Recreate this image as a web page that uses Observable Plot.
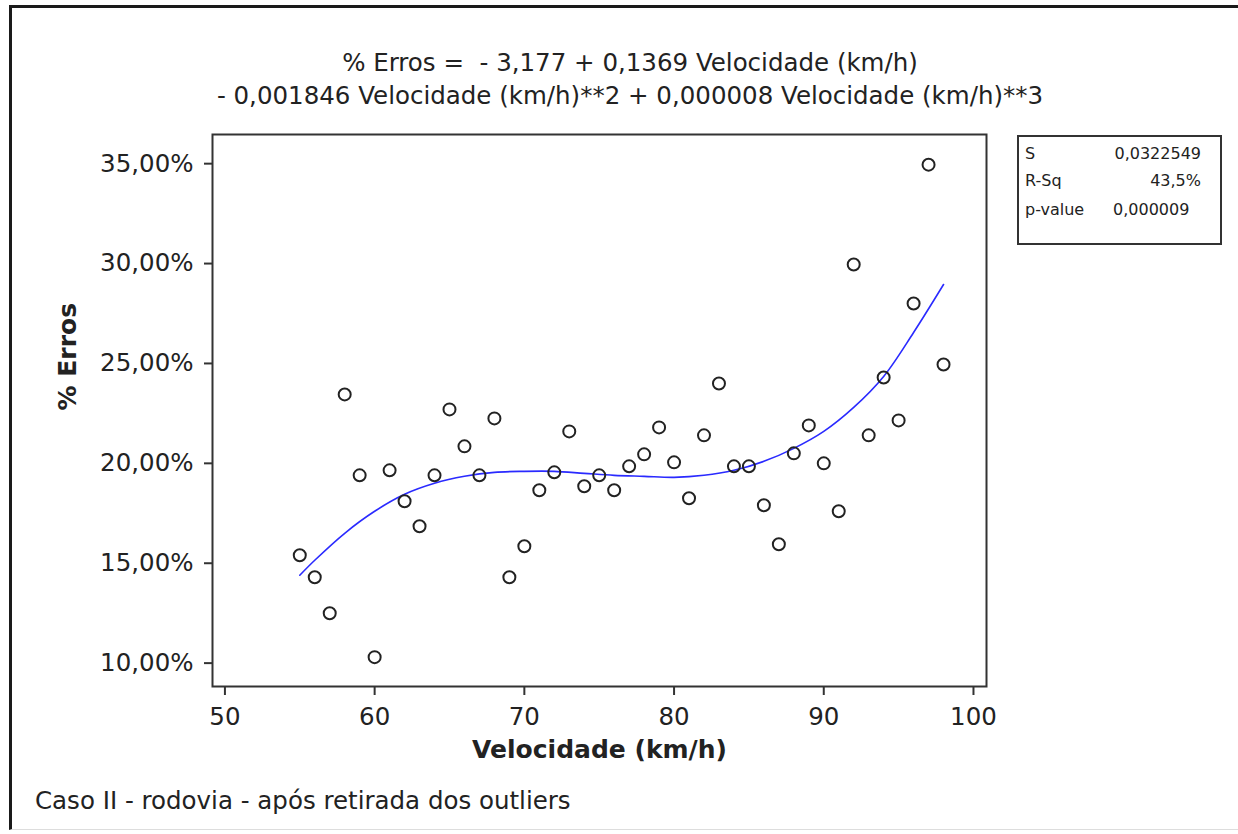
<!DOCTYPE html>
<html>
<head>
<meta charset="utf-8">
<script src="https://cdn.jsdelivr.net/npm/d3@7"></script>
<script src="https://cdn.jsdelivr.net/npm/@observablehq/plot@0.6"></script>
<style>
  html, body { margin: 0; padding: 0; background: #fff; overflow: hidden; }
  #page { position: relative; width: 1238px; height: 834px; font-family: "DejaVu Sans", sans-serif; color: #222; overflow: hidden; }
  #frame { position: absolute; left: 9px; top: 5px; width: 1240px; height: 825px; border-left: 3px solid #1a1a1a; border-top: 3px solid #1a1a1a; border-bottom: 1px solid #ddd; box-sizing: border-box; }
  #title { position: absolute; left: 0; top: 46px; width: 1260px; text-align: center; font-size: 24.5px; line-height: 33px; white-space: pre; }
  #chart { position: absolute; left: 0; top: 0; }
  #stats { position: absolute; left: 1017px; top: 135px; width: 205px; height: 110px; border: 2px solid #333; box-sizing: border-box; }
  .st { position: absolute; font-size: 16px; line-height: 20px; white-space: pre; }
  #caption { position: absolute; left: 35px; top: 784px; font-size: 24.5px; line-height: 33px; white-space: pre; }
</style>
</head>
<body>
<div id="page">
  <div id="frame"></div>
  <div id="chart"></div>
  <div id="title"></div>
  <div id="stats"></div>
  <div id="caption"></div>
</div>
<script>
// ---- Data ----
const velocidade = [55,56,57,58,59,60,61,62,63,64,65,66,67,68,69,70,71,72,73,74,75,76,77,78,79,80,81,82,83,84,85,86,87,88,89,90,91,92,93,94,95,96,97,98];
const erros = [15.4,14.3,12.5,23.45,19.4,10.3,19.65,18.1,16.85,19.4,22.7,20.85,19.4,22.25,14.3,15.85,18.65,19.55,21.6,18.85,19.4,18.65,19.85,20.45,21.8,20.05,18.25,21.4,24.0,19.85,19.85,17.9,15.95,20.5,21.9,20.0,17.6,29.95,21.4,24.3,22.15,28.0,34.95,24.95];

// fitted line
const ajusteX = [55,56,58,60,62,64,66,68,70,72,74,76,78,80,82,84,86,88,90,92,94,96,98];
const ajusteY = [14.4,15.15,16.5,17.6,18.45,19.0,19.35,19.55,19.6,19.6,19.5,19.4,19.35,19.3,19.4,19.65,20.1,20.75,21.6,22.8,24.35,26.55,28.95];

const xTicks = [50,60,70,80,90,100];
const yTicks = [10,15,20,25,30,35];

const titleLines = ["% Erros =  - 3,177 + 0,1369 Velocidade (km/h)", "- 0,001846 Velocidade (km/h)**2 + 0,000008 Velocidade (km/h)**3"];
const xLabel = "Velocidade (km/h)";
const yLabel = "% Erros";
const statLabels = ["S", "R-Sq", "p-value"];
const statValues = ["0,0322549", "43,5%", "0,000009"];
const caption = "Caso II - rodovia - após retirada dos outliers";

// ---- Build ----
const pontos = velocidade.map((v, i) => ({v, e: erros[i]}));
const ajuste = ajusteX.map((v, i) => ({v, e: ajusteY[i]}));

const chart = Plot.plot({
  width: 1238,
  height: 834,
  marginLeft: 212,
  marginRight: 252,
  marginTop: 134,
  marginBottom: 148,
  style: {fontFamily: '"DejaVu Sans", sans-serif', fontSize: "24.5px", color: "#222", background: "transparent", overflow: "visible"},
  x: {domain: [49.17, 100.87]},
  y: {domain: [8.83, 36.46]},
  marks: [
    Plot.frame({stroke: "#333", strokeWidth: 2}),
    Plot.axisX(xTicks, {tickSize: 9, tickPadding: 12, stroke: "#333", strokeWidth: 2, label: null, tickFormat: d => String(d)}),
    Plot.axisY(yTicks, {tickSize: 8, tickPadding: 11, stroke: "#333", strokeWidth: 2, label: null, tickFormat: d => d.toFixed(2).replace(".", ",") + "%"}),
    Plot.line(ajuste, {x: "v", y: "e", stroke: "#2a2aff", strokeWidth: 1.6, curve: "catmull-rom"}),
    Plot.dot(pontos, {x: "v", y: "e", r: 6, stroke: "#222", strokeWidth: 2, fill: "none"}),
    Plot.text([xLabel], {frameAnchor: "bottom", dy: 71, fontWeight: "bold", fontSize: 25, fill: "#222"}),
    Plot.text([yLabel], {frameAnchor: "left", dx: -145, rotate: -90, fontWeight: "bold", fontSize: 25, fill: "#222"})
  ]
});
document.getElementById("chart").appendChild(chart);

document.getElementById("title").textContent = titleLines.join("\n");
document.getElementById("caption").textContent = caption;

const stats = document.getElementById("stats");
const rowTops = [7, 34, 63];
statLabels.forEach((lab, i) => {
  const l = document.createElement("div");
  l.className = "st";
  l.style.left = "6px";
  l.style.top = rowTops[i] + "px";
  l.textContent = lab;
  stats.appendChild(l);
  const v = document.createElement("div");
  v.className = "st";
  v.style.top = rowTops[i] + "px";
  if (i < 2) { v.style.right = "19px"; } else { v.style.left = "94px"; }
  v.textContent = statValues[i];
  stats.appendChild(v);
});
</script>
</body>
</html>
